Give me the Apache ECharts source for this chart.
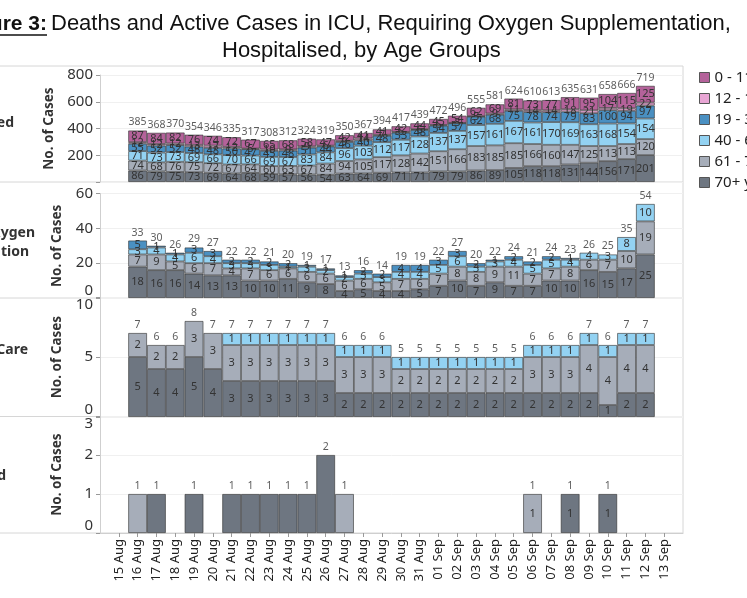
<!DOCTYPE html>
<html>
<head>
<meta charset="utf-8">
<script src="https://cdn.jsdelivr.net/npm/echarts@6/dist/echarts.min.js"></script>
<style>
  html, body { margin: 0; padding: 0; background: #fff; }
  #main { width: 747px; height: 598px; }
</style>
</head>
<body>
<div id="main"></div>
<script>
// x axis tick labels
const dates = ['15 Aug', '16 Aug', '17 Aug', '18 Aug', '19 Aug', '20 Aug', '21 Aug', '22 Aug', '23 Aug',
  '24 Aug', '25 Aug', '26 Aug', '27 Aug', '28 Aug', '29 Aug', '30 Aug', '31 Aug', '01 Sep', '02 Sep',
  '03 Sep', '04 Sep', '05 Sep', '06 Sep', '07 Sep', '08 Sep', '09 Sep', '10 Sep', '11 Sep', '12 Sep', '13 Sep']

const ageGroups = ['0 - 11 years', '12 - 18 years', '19 - 39 years', '40 - 60 years', '61 - 70 years', '70+ years']
const ageColors = ['#b4629a', '#e8a5d4', '#4a90c2', '#93d2f2', '#a6adb9', '#6e7681']

// values below run 16 Aug .. 12 Sep
// Hospitalised
const hosp0to11 = [87, 84, 82, 76, 74, 72, 67, 65, 68, 58, 47, 42, 41, 41, 42, 44, 45, 54, 62, 69, 81, 73, 77, 91, 95, 104, 115, 125]
const hosp12to18 = [12, 12, 12, 13, 17, 12, 5, 10, 9, 9, 6, 9, 14, 7, 6, 6, 6, 3, 5, 9, 11, 14, 14, 18, 21, 17, 19, 22]
const hosp19to39 = [55, 52, 52, 48, 48, 50, 47, 45, 48, 51, 44, 46, 40, 48, 53, 48, 54, 57, 62, 68, 75, 78, 74, 79, 83, 100, 94, 97]
const hosp40to60 = [71, 73, 73, 69, 66, 70, 66, 69, 67, 83, 84, 96, 103, 112, 117, 128, 137, 137, 157, 161, 167, 161, 170, 169, 163, 168, 154, 154]
const hosp61to70 = [74, 68, 76, 75, 72, 67, 64, 60, 63, 67, 84, 94, 105, 117, 128, 142, 151, 166, 183, 185, 185, 166, 160, 147, 125, 113, 113, 120]
const hosp70plus = [86, 79, 75, 73, 69, 64, 68, 59, 57, 56, 54, 63, 64, 69, 71, 71, 79, 79, 86, 89, 105, 118, 118, 131, 144, 156, 171, 201]

// Requiring oxygen supplementation
const oxy19to39 = [5, 1, 1, 3, 3, 2, 2, 2, 2, 1, 1, 1, 2, 2, 4, 4, 3, 3, 2, 1, 2, 2, 2, 1, 0, 0, 0, 0]
const oxy40to60 = [3, 4, 4, 6, 4, 3, 3, 3, 1, 3, 2, 2, 3, 3, 4, 4, 5, 6, 3, 3, 4, 5, 5, 4, 4, 3, 8, 10]
const oxy61to70 = [7, 9, 5, 6, 7, 4, 7, 6, 6, 6, 6, 6, 6, 5, 7, 6, 7, 8, 8, 9, 11, 7, 7, 8, 6, 7, 10, 19]
const oxy70plus = [18, 16, 16, 14, 13, 13, 10, 10, 11, 9, 8, 4, 5, 4, 4, 5, 7, 10, 7, 9, 7, 7, 10, 10, 16, 15, 17, 25]

// Intensive care
const icu40to60 = [0, 0, 0, 0, 0, 1, 1, 1, 1, 1, 1, 1, 1, 1, 1, 1, 1, 1, 1, 1, 1, 1, 1, 1, 1, 1, 1, 1]
const icu61to70 = [2, 2, 2, 3, 3, 3, 3, 3, 3, 3, 3, 3, 3, 3, 2, 2, 2, 2, 2, 2, 2, 3, 3, 3, 4, 4, 4, 4]
const icu70plus = [5, 4, 4, 5, 4, 3, 3, 3, 3, 3, 3, 2, 2, 2, 2, 2, 2, 2, 2, 2, 2, 2, 2, 2, 2, 1, 2, 2]

// Deceased
const dead61to70 = [1, 0, 0, 0, 0, 0, 0, 0, 0, 0, 0, 1, 0, 0, 0, 0, 0, 0, 0, 0, 0, 1, 0, 0, 0, 0, 0, 0]
const dead70plus = [0, 1, 0, 1, 0, 1, 1, 1, 1, 1, 2, 0, 0, 0, 0, 0, 0, 0, 0, 0, 0, 0, 0, 1, 0, 1, 0, 0]

const panels = [
  { layers: [hosp0to11, hosp12to18, hosp19to39, hosp40to60, hosp61to70, hosp70plus], max: 800, interval: 200, top: 75, height: 107, hideZero: true },
  { layers: [null, null, oxy19to39, oxy40to60, oxy61to70, oxy70plus], max: 60, interval: 20, top: 193.5, height: 104.5, pushMin: true },
  { layers: [null, null, null, icu40to60, icu61to70, icu70plus], max: 10, interval: 5, top: 297, height: 120, pushMin: true, pushMax: true },
  { layers: [null, null, null, null, dead61to70, dead70plus], max: 3, interval: 1, top: 416, height: 117, pushMin: true, pushMax: true, innerOnly: 'Sep' },
]

const axisCats = [''].concat(dates, [''])
// pad 28 values onto the 32 slot axis (blank, 15 Aug, values..., 13 Sep, blank)
const pad = (arr) => [null, null].concat(arr.map((v) => (v ? v : null)), [null, null])

const font = '"Noto Sans", "DejaVu Sans", sans-serif'
const grids = []
const xAxes = []
const yAxes = []
const series = []

panels.forEach((p, k) => {
  grids.push({ left: 100, right: 64, top: p.top, height: p.height })
  const last = k === panels.length - 1
  xAxes.push({
    gridIndex: k,
    type: 'category',
    data: axisCats,
    boundaryGap: false,
    axisLine: { show: last, lineStyle: { color: '#cfcfcf' } },
    axisTick: { show: last, length: 4, interval: (i) => i > 0 && i < axisCats.length - 1, lineStyle: { color: '#999' } },
    axisLabel: { show: last, interval: 0, rotate: 90, fontSize: 13, color: '#222', fontFamily: font, margin: 6 },
    splitLine: { show: false },
  })
  yAxes.push({
    gridIndex: k,
    type: 'value',
    min: 0,
    max: p.max,
    interval: p.interval,
    name: 'No. of Cases',
    nameLocation: 'middle',
    nameGap: 36,
    nameTextStyle: { fontSize: 13.5, fontWeight: 'bold', color: '#333', fontFamily: font },
    axisLine: { show: true, lineStyle: { color: '#cfcfcf' } },
    axisTick: { show: true, length: 4, lineStyle: { color: '#999' } },
    axisLabel: {
      fontSize: 15, color: '#333', fontFamily: font, margin: 7,
      verticalAlignMinLabel: p.pushMin ? 'bottom' : 'middle',
      verticalAlignMaxLabel: p.pushMax ? 'top' : 'middle',
      formatter: (v) => (p.hideZero && v === 0 ? '' : v),
    },
    splitLine: { show: true, lineStyle: { color: '#f0f0f0' } },
  })

  // stack from 70+ at the bottom up to 0 - 11
  for (let a = ageGroups.length - 1; a >= 0; a--) {
    const values = p.layers[a]
    if (!values) continue
    series.push({
      type: 'bar',
      name: ageGroups[a],
      xAxisIndex: k,
      yAxisIndex: k,
      stack: 'panel' + k,
      barCategoryGap: '0%',
      data: pad(values),
      itemStyle: { color: ageColors[a], borderColor: 'rgba(45,45,45,0.75)', borderWidth: 0.8 },
      label: {
        show: true,
        position: 'inside',
        fontSize: 11,
        color: '#333',
        fontFamily: font,
        formatter: (d) => (p.innerOnly && d.name.indexOf(p.innerOnly) < 0 ? '' : d.value),
      },
      emphasis: { disabled: true },
    })
  }

  // totals above each bar
  const totals = p.layers[5].map((_, i) => p.layers.reduce((s, l) => s + (l ? l[i] : 0), 0))
  series.push({
    type: 'scatter',
    xAxisIndex: k,
    yAxisIndex: k,
    symbolSize: 1,
    itemStyle: { color: 'rgba(0,0,0,0)' },
    data: pad(totals),
    label: { show: true, position: 'top', distance: 2, fontSize: 10.5, color: '#333', fontFamily: font, formatter: (d) => d.value },
    silent: true,
    z: 5,
  })
})

const rowLabel = (text, x, y) => ({
  type: 'text', x, y,
  style: { text, font: 'bold 14px ' + font, fill: '#333', textAlign: 'right', textVerticalAlign: 'middle' },
})
const hLine = (y) => ({
  type: 'line', shape: { x1: 0, y1: y, x2: 683, y2: y }, style: { stroke: '#d6d6d6', lineWidth: 1 },
})

const chart = echarts.init(document.getElementById('main'), null, { renderer: 'canvas' })
chart.setOption({
  animation: false,
  backgroundColor: '#fff',
  grid: grids,
  xAxis: xAxes,
  yAxis: yAxes,
  series,
  legend: {
    data: ageGroups,
    orient: 'vertical',
    left: 694,
    top: 65,
    itemWidth: 10,
    itemHeight: 10,
    itemGap: 6,
    icon: 'rect',
    itemStyle: { borderColor: '#555', borderWidth: 1 },
    textStyle: { fontSize: 15, color: '#222', fontFamily: font },
    selectedMode: false,
  },
  graphic: [
    hLine(66), hLine(182), hLine(298), hLine(416.5), hLine(533),
    { type: 'line', shape: { x1: 683, y1: 66, x2: 683, y2: 533 }, style: { stroke: '#d6d6d6', lineWidth: 1 } },
    { type: 'text', x: 47, y: 24, style: { text: 'Figure 3:', font: 'bold 21px "Liberation Sans", Arial, sans-serif', fill: '#111', textAlign: 'right', textVerticalAlign: 'middle' } },
    { type: 'line', shape: { x1: -80, y1: 35, x2: 47, y2: 35 }, style: { stroke: '#111', lineWidth: 1.5 } },
    { type: 'text', x: 51, y: 24, style: { text: 'Deaths and Active Cases in ICU, Requiring Oxygen Supplementation,', font: '22px "Liberation Sans", Arial, sans-serif', fill: '#111', textAlign: 'left', textVerticalAlign: 'middle' } },
    { type: 'text', x: 222, y: 51, style: { text: 'Hospitalised, by Age Groups', font: '22px "Liberation Sans", Arial, sans-serif', fill: '#111', textAlign: 'left', textVerticalAlign: 'middle' } },
    rowLabel('Hospitalised', 14, 123),
    rowLabel('Requiring Oxygen', 35, 233),
    rowLabel('Supplementation', 29, 252),
    rowLabel('Intensive Care', 28, 350),
    rowLabel('Deceased', 6, 476),
  ],
})
</script>
</body>
</html>
